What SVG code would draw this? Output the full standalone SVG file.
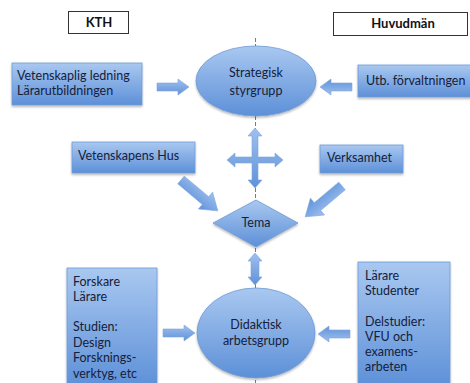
<svg xmlns="http://www.w3.org/2000/svg" width="470" height="383" viewBox="0 0 470 383">
<defs>
<linearGradient id="g" x1="0" y1="0" x2="0" y2="1">
<stop offset="0" stop-color="#a9c8f0"/>
<stop offset="1" stop-color="#5d90d8"/>
</linearGradient>
<linearGradient id="ga" x1="0" y1="0" x2="0" y2="1">
<stop offset="0" stop-color="#9fc0ee"/>
<stop offset="1" stop-color="#5f92da"/>
</linearGradient>
<filter id="sh" x="-10%" y="-10%" width="130%" height="140%">
<feDropShadow dx="0" dy="1.5" stdDeviation="1.2" flood-color="#000" flood-opacity="0.3"/>
</filter>
<path id="arr" d="M0,-4 H21 V-8 L32,0 L21,8 V4 H0 Z"/>
<path id="diag" d="M0,-5 H32 V-11 L48,0 L32,11 V5 H0 Z"/>
</defs>
<style>
.n{fill:url(#g);stroke:#6f9bd6;stroke-width:0.8;filter:url(#sh)}
.a{fill:url(#ga);stroke:#7ea6dc;stroke-width:0.6}
.lbl{fill:#fff;stroke:#333;stroke-width:1}
text{font-family:Lato,"Liberation Sans",Arial,sans-serif;font-size:12.5px;fill:#16203a}
.b{font-weight:bold;fill:#111;font-size:13px}
.c{text-anchor:middle}
</style>
<g id="connectors">
<line x1="255.5" y1="38" x2="255.5" y2="383" stroke="#5a7fb8" stroke-width="1" stroke-dasharray="4,2"/>
<use href="#arr" class="a" transform="translate(157,87)"/>
<use href="#arr" class="a" transform="translate(352,87) rotate(180)"/>
<use href="#diag" class="a" transform="translate(181,180) rotate(40)"/>
<use href="#diag" class="a" transform="translate(342,186) rotate(140)"/>
<path class="a" d="M255,128 L262,136 H258 V157 H275 V153 L283,160 L275,167 V163 H258 V180 H262 L255,188 L248,180 H252 V163 H235 V167 L227,160 L235,153 V157 H252 V136 H248 Z"/>
<path class="a" d="M255,253 L262,261 H259 V277 H262 L255,285 L248,277 H251 V261 H248 Z"/>
<use href="#arr" class="a" transform="translate(163,333)"/>
<use href="#arr" class="a" transform="translate(350,334) rotate(180)"/>
</g>
<g id="kth"><rect class="lbl" x="68.5" y="11.5" width="60" height="22"/><text class="b c" x="99" y="27">KTH</text></g>
<g id="huvudman"><rect class="lbl" x="333.5" y="12.5" width="134" height="23"/><text class="b c" x="403" y="28">Huvudmän</text></g>
<g id="vetenskaplig"><rect class="n" x="12" y="63" width="130" height="42"/><text x="17" y="80">Vetenskaplig ledning</text><text x="17" y="95">Lärarutbildningen</text></g>
<g id="strategisk"><ellipse class="n" cx="256" cy="81" rx="60" ry="35"/><text class="c" x="256" y="77">Strategisk</text><text class="c" x="256" y="95">styrgrupp</text></g>
<g id="utb"><rect class="n" x="358" y="65" width="114" height="32"/><text x="366" y="85">Utb. förvaltningen</text></g>
<g id="vhus"><rect class="n" x="72" y="142" width="123" height="31"/><text x="78" y="160">Vetenskapens Hus</text></g>
<g id="verksamhet"><rect class="n" x="320" y="145" width="83" height="28"/><text x="327" y="162">Verksamhet</text></g>
<g id="tema"><path class="n" d="M256,200 L298,223 L256,247 L213,223 Z"/><text class="c" x="256" y="227">Tema</text></g>
<g id="didaktisk"><ellipse class="n" cx="256" cy="333" rx="59" ry="45"/><text class="c" x="256" y="329">Didaktisk</text><text class="c" x="256" y="345">arbetsgrupp</text></g>
<g id="forskare"><rect class="n" x="67" y="268" width="90" height="120"/>
<text x="73" y="286">Forskare</text><text x="73" y="301">Lärare</text><text x="73" y="331">Studien:</text><text x="73" y="347">Design</text><text x="73" y="362">Forsknings-</text><text x="73" y="378">verktyg, etc</text></g>
<g id="larare"><rect class="n" x="358" y="262" width="92" height="126"/>
<text x="365" y="280">Lärare</text><text x="365" y="295">Studenter</text><text x="365" y="326">Delstudier:</text><text x="365" y="341">VFU och</text><text x="365" y="356">examens-</text><text x="365" y="371">arbeten</text></g>
</svg>
